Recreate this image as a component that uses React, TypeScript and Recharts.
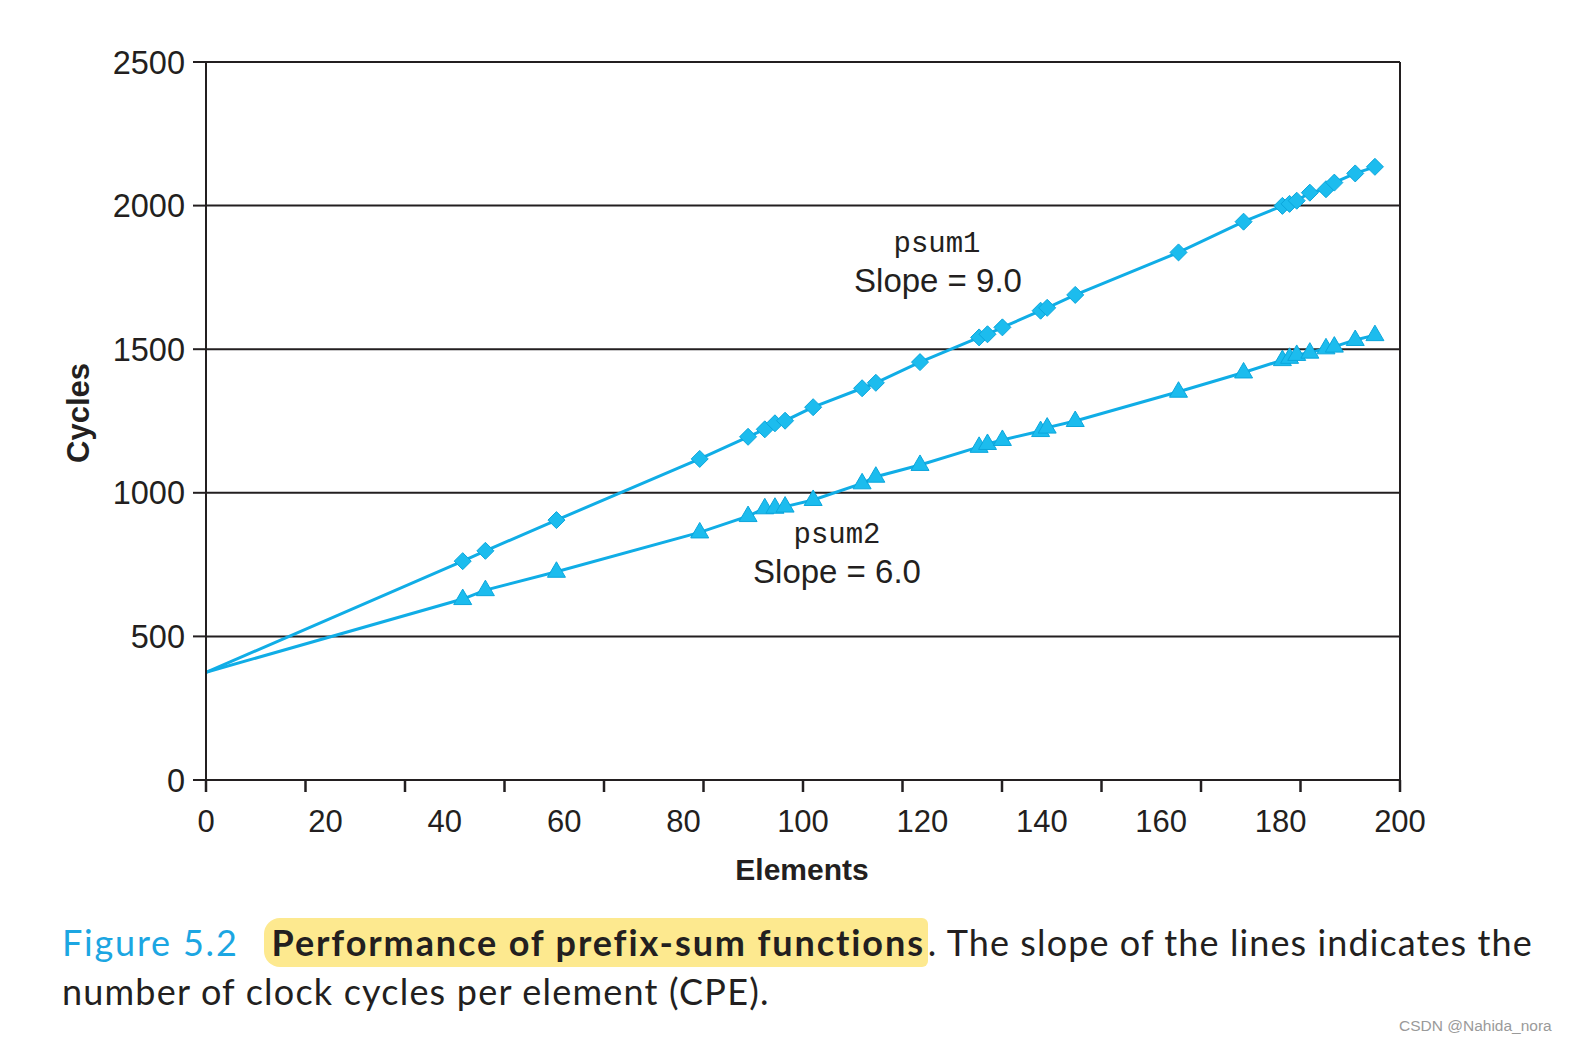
import { LineChart, Line, XAxis, YAxis, CartesianGrid, ReferenceLine } from 'recharts';

// measured points (elements / cycles)
const elements = [
    0, 43.0, 46.8, 58.7, 82.7, 90.8, 93.6, 95.3, 97.0, 101.7, 109.9, 112.2, 119.6, 129.5,
    130.9, 133.4, 139.8, 140.9, 145.6, 162.9, 173.8, 180.3, 181.5, 182.7, 184.9, 187.6, 189.0, 192.5, 195.8
];
const psum1Cycles = [
    375, 762, 798, 905, 1118, 1195, 1221, 1242, 1251, 1298, 1364, 1383, 1455, 1541,
    1552, 1576, 1634, 1644, 1689, 1837, 1944, 1999, 2006, 2017, 2045, 2057, 2080, 2112, 2135
];
const psum2Cycles = [
    375, 630, 661, 725, 862, 919, 946, 948, 952, 975, 1033, 1056, 1097, 1160,
    1170, 1184, 1215, 1227, 1250, 1352, 1419, 1462, 1470, 1480, 1488, 1503, 1509, 1532, 1549
];

const xLabelTicks = [0, 20, 40, 60, 80, 100, 120, 140, 160, 180, 200];
const xMarkDivisions = 12; // the tick marks in the figure don't line up with the labels
const yTicks = [0, 500, 1000, 1500, 2000, 2500];

const INK = '#231f20';
const LINE_COLOR = '#10ade6';
const MARKER_FILL = '#1cbcee';
const MARKER_STROKE = '#0ba6dc';
const SANS = '"Liberation Sans", Arial, sans-serif';
const MONO = '"Liberation Mono", monospace';

const data = elements.map((x, i) => ({ x, psum1: psum1Cycles[i], psum2: psum2Cycles[i] }));

const xMarkTicks = Array.from({ length: xMarkDivisions + 1 }, (_, k) => (200 * k) / xMarkDivisions);
const allXTicks = Array.from(new Set([...xLabelTicks, ...xMarkTicks].map((v) => +v.toFixed(4)))).sort((a, b) => a - b);

function ElementTick({ x, y, payload }: any) {
    const v = payload.value;
    const m = (v * xMarkDivisions) / 200;
    const isMark = Math.abs(m - Math.round(m)) < 1e-3;
    const isLabel = Math.abs(v / 20 - Math.round(v / 20)) < 1e-3;
    const axisY = y - 30;
    return (
        <g>
            {isMark && <line x1={x} x2={x} y1={axisY} y2={axisY + 12} stroke={INK} strokeWidth={2.5} />}
            {isLabel && (
                <text x={x} y={y} dy="0.71em" textAnchor="middle" fill={INK} fontSize={31} fontFamily={SANS}>
                    {Math.round(v)}
                </text>
            )}
        </g>
    );
}

function Diamond({ cx, cy, index }: any) {
    if (index === 0 || cx == null) return <g key={`d1-${index}`} />;
    const r = 8.5;
    return (
        <path
            key={`d1-${index}`}
            d={`M${cx},${cy - r} L${cx + r},${cy} L${cx},${cy + r} L${cx - r},${cy} Z`}
            fill={MARKER_FILL}
            stroke={MARKER_STROKE}
            strokeWidth={1}
        />
    );
}

function Triangle({ cx, cy, index }: any) {
    if (index === 0 || cx == null) return <g key={`d2-${index}`} />;
    return (
        <path
            key={`d2-${index}`}
            d={`M${cx},${cy - 10} L${cx + 9},${cy + 5.5} L${cx - 9},${cy + 5.5} Z`}
            fill={MARKER_FILL}
            stroke={MARKER_STROKE}
            strokeWidth={1}
        />
    );
}

export default function App() {
    return (
        <div style={{ position: 'absolute', top: 0, left: 0, width: 1570, height: 1046, background: '#fff' }}>
            <LineChart width={1570} height={900} data={data} margin={{ top: 62, right: 170, bottom: 60, left: 126 }}>
                <CartesianGrid vertical={false} stroke={INK} strokeWidth={2} />
                <XAxis
                    type="number"
                    dataKey="x"
                    domain={[0, 200]}
                    ticks={allXTicks}
                    interval={0}
                    tickLine={false}
                    tickSize={12}
                    tickMargin={18}
                    height={60}
                    axisLine={{ stroke: INK, strokeWidth: 2 }}
                    tick={<ElementTick />}
                />
                <YAxis
                    type="number"
                    domain={[0, 2500]}
                    ticks={yTicks}
                    interval={0}
                    width={80}
                    tickSize={13}
                    tickMargin={8}
                    tickLine={{ stroke: INK, strokeWidth: 2 }}
                    axisLine={{ stroke: INK, strokeWidth: 2 }}
                    tick={{ fill: INK, fontSize: 32.5, fontFamily: SANS }}
                />
                <ReferenceLine x={200} stroke={INK} strokeWidth={2} />
                <Line
                    type="linear"
                    dataKey="psum1"
                    stroke={LINE_COLOR}
                    strokeWidth={3}
                    dot={Diamond}
                    activeDot={false}
                    isAnimationActive={false}
                />
                <Line
                    type="linear"
                    dataKey="psum2"
                    stroke={LINE_COLOR}
                    strokeWidth={3}
                    dot={Triangle}
                    activeDot={false}
                    isAnimationActive={false}
                />
            </LineChart>

            <svg width={1570} height={900} style={{ position: 'absolute', top: 0, left: 0, pointerEvents: 'none' }}>
                <text x={937} y={252} textAnchor="middle" fill={INK} fontSize={29} fontFamily={MONO}>psum1</text>
                <text x={938} y={292} textAnchor="middle" fill={INK} fontSize={33} fontFamily={SANS}>Slope = 9.0</text>
                <text x={837} y={543} textAnchor="middle" fill={INK} fontSize={29} fontFamily={MONO}>psum2</text>
                <text x={837} y={583} textAnchor="middle" fill={INK} fontSize={33} fontFamily={SANS}>Slope = 6.0</text>
                <text x={802} y={880} textAnchor="middle" fill={INK} fontSize={30} fontWeight="bold" fontFamily={SANS}>Elements</text>
                <text x={89} y={413} textAnchor="middle" fill={INK} fontSize={31} fontWeight="bold" fontFamily={SANS} transform="rotate(-90 89 413)">Cycles</text>
            </svg>

            <div
                style={{
                    position: 'absolute',
                    left: 62,
                    top: 918,
                    width: 1500,
                    fontFamily: 'Lato, "Open Sans", sans-serif',
                    fontSize: 36,
                    letterSpacing: '1.2px',
                    lineHeight: '49px',
                    color: INK,
                    whiteSpace: 'nowrap',
                }}
            >
                <span style={{ color: '#1ca6e2', letterSpacing: '1.8px' }}>Figure 5.2</span>
                <span
                    style={{
                        display: 'inline-block',
                        marginLeft: 25,
                        padding: '0 3px 0 8px',
                        background: '#fde98f',
                        borderRadius: '16px 6px 6px 16px',
                        fontWeight: 'bold',
                        letterSpacing: '1.9px',
                    }}
                >
                    Performance of prefix-sum functions
                </span>
                <span style={{ letterSpacing: '1.1px' }}>. The slope of the lines indicates the</span>
                <br />
                <span>number of clock cycles per element (CPE).</span>
            </div>

            <div
                style={{
                    position: 'absolute',
                    left: 1399,
                    top: 1017,
                    fontFamily: SANS,
                    fontSize: 15.5,
                    color: '#9a9a9a',
                }}
            >
                CSDN @Nahida_nora
            </div>
        </div>
    );
}
